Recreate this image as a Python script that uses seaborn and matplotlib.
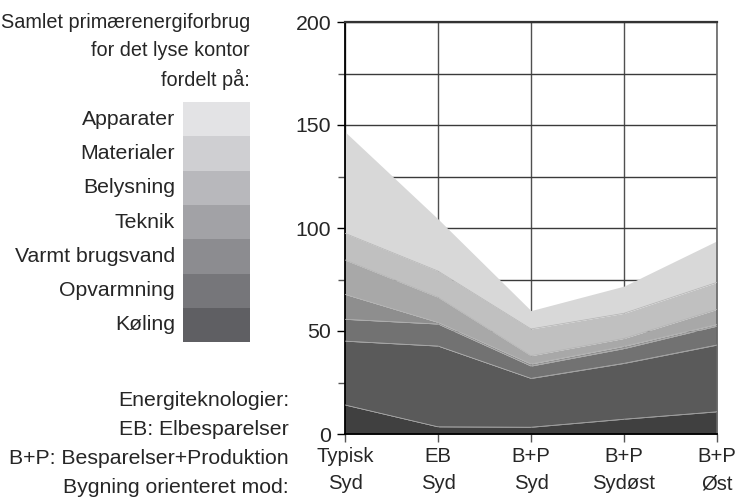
import numpy as np
import pandas as pd
import matplotlib
matplotlib.use("Agg")
import matplotlib.pyplot as plt
import seaborn as sns
from matplotlib.ticker import MultipleLocator

# data (kWh/m2 per year, stacked)
scenarier = ["Typisk\nSyd", "EB\nSyd", "B+P\nSyd", "B+P\nSydøst", "B+P\nØst"]
kategorier = ["Køling", "Opvarmning", "Varmt brugsvand", "Teknik", "Belysning", "Materialer", "Apparater"]
koeling = [14.1, 3.5, 3.3, 7.2, 10.8]
opvarmning = [31.0, 39.2, 23.7, 27.1, 32.4]
varmt_brugsvand = [10.6, 10.7, 6.0, 7.2, 9.2]
teknik = [12.1, 0.8, 1.0, 1.1, 0.8]
belysning = [16.7, 12.2, 4.0, 3.8, 7.3]
materialer = [12.9, 12.7, 13.0, 12.2, 13.1]
apparater = [49.3, 25.3, 8.9, 13.2, 20.2]

area_farver = ["#404040", "#5a5a5a", "#727272", "#8e8e8e", "#a8a8a8", "#c0c0c0", "#d8d8d8"]
legend_farver = ["#5f5f63", "#76767a", "#8c8c90", "#a2a2a6", "#b8b8bc", "#cfcfd2", "#e3e3e5"]

sns.set_theme(style="white")
plt.rcParams["font.family"] = ["Liberation Sans", "DejaVu Sans"]

fig = plt.figure(figsize=(7.35, 5.01), dpi=100)
ax = fig.add_axes([345 / 735, 1 - 434 / 501, (717 - 345) / 735, (434 - 22) / 501])

x = np.arange(len(scenarier))
serier = [koeling, opvarmning, varmt_brugsvand, teknik, belysning, materialer, apparater]
ax.stackplot(x, *serier, colors=area_farver, linewidth=0, zorder=2)

# faint boundaries between layers
df = pd.DataFrame(np.cumsum(serier, axis=0).T, columns=kategorier)
df["x"] = x
for k in kategorier[:-1]:
    sns.lineplot(data=df, x="x", y=k, ax=ax, color="#b4b4b4", linewidth=0.5, zorder=3)

fs = 15.3
ax.set_xlim(0, len(scenarier) - 1)
ax.set_ylim(0, 200)
ax.set_xlabel("")
ax.set_ylabel("")
ax.set_xticks(x)
ax.set_xticklabels(scenarier, fontsize=14.6, linespacing=1.58)
ax.yaxis.set_major_locator(MultipleLocator(50))
ax.yaxis.set_minor_locator(MultipleLocator(25))
ax.tick_params(axis="y", which="major", labelsize=fs, length=6, width=1, color="black", pad=4, left=True)
ax.tick_params(axis="y", which="minor", length=5, width=1, color="#555555", left=True)
ax.tick_params(axis="x", length=6, width=1, color="#555555", pad=3, bottom=True)

ax.grid(True, which="both", axis="y", color="#3a3a3a", linewidth=1.0, zorder=1)
ax.grid(True, which="major", axis="x", color="#505050", linewidth=1.0, zorder=1)
ax.set_axisbelow(True)
for side in ["left", "bottom"]:
    ax.spines[side].set_color("black")
    ax.spines[side].set_linewidth(1.3)
ax.spines["top"].set_color("#333333")
ax.spines["top"].set_linewidth(1.6)
ax.spines["right"].set_color("#666666")
ax.spines["right"].set_linewidth(1.2)

# title block to the left
for i, t in enumerate(["Samlet primærenergiforbrug", "for det lyse kontor", "fordelt på:"]):
    fig.text(250 / 735, 1 - (22 + 28.5 * i) / 501, t, ha="right", va="center", fontsize=14.3)

# legend boxes
box_top, box_h = 102, 34.3
for i, (navn, farve) in enumerate(zip(kategorier[::-1], legend_farver[::-1])):
    y0 = box_top + i * box_h
    fig.patches.append(plt.Rectangle((183 / 735, 1 - (y0 + box_h) / 501), 67 / 735, box_h / 501,
                                     transform=fig.transFigure, facecolor=farve, edgecolor="none"))
    fig.text(175 / 735, 1 - (y0 + box_h / 2) / 501, navn, ha="right", va="center", fontsize=fs)

# explanation of x labels
for i, t in enumerate(["Energiteknologier:", "EB: Elbesparelser",
                       "B+P: Besparelser+Produktion", "Bygning orienteret mod:"]):
    fig.text(289 / 735, 1 - (401 + 28.7 * i) / 501, t, ha="right", va="center", fontsize=fs)

fig.savefig("out.png", dpi=100)
